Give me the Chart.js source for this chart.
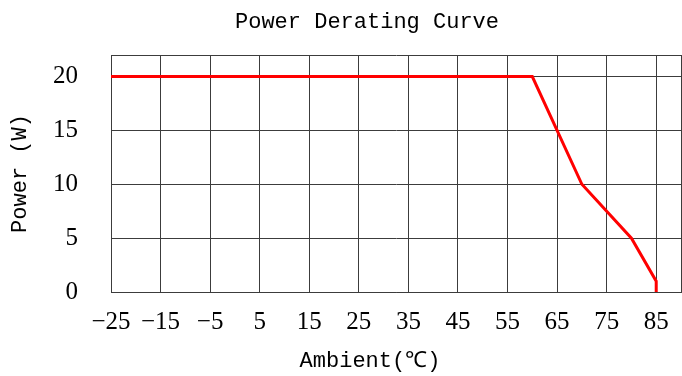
<!DOCTYPE html>
<html>
<head>
<meta charset="utf-8">
<script src="https://cdn.jsdelivr.net/npm/chart.js@4/dist/chart.umd.min.js"></script>
<style>
  html, body { margin: 0; padding: 0; background: #fff; }
  #wrap { width: 682px; height: 376px; }
</style>
</head>
<body>
<div id="wrap"><canvas id="derating"></canvas></div>
<script>
// curve points
var ambientTemps = [-25, 60, 70, 80, 85, 85];
var powerWatts = [20, 20, 10, 5, 1, 0];

// axis ticks
var xTickValues = [-25, -15, -5, 5, 15, 25, 35, 45, 55, 65, 75, 85];
var yTickValues = [0, 5, 10, 15, 20];
var xMin = -25, xMax = 90;
var yMin = 0, yMax = 22;

var chartTitle = 'Power Derating Curve';
var xTitle = 'Ambient(℃)';
var yTitle = 'Power (W)';

var gridColor = '#3c3c3c';
var titleFont = '"Liberation Mono", monospace';
var tickFont = '"Liberation Serif", serif';

var points = ambientTemps.map(function (t, i) {
  return { x: t, y: powerWatts[i] };
});

// use a real minus sign, the original has long dashes
function fmt(v) {
  return v < 0 ? '\u2212' + Math.abs(v) : String(v);
}

// title and x-axis title sit a little left of the plot centre in the original
var sideTitles = {
  id: 'sideTitles',
  afterDraw: function (chart) {
    var ctx = chart.ctx;
    ctx.save();
    ctx.fillStyle = '#000';
    ctx.textAlign = 'center';
    ctx.textBaseline = 'middle';
    ctx.font = '22px ' + titleFont;
    ctx.fillText(chartTitle, 367, 22);
    ctx.fillText(xTitle, 370, 361);
    ctx.restore();
  }
};

new Chart(document.getElementById('derating').getContext('2d'), {
  type: 'line',
  data: {
    datasets: [{
      data: points,
      borderColor: '#ff0000',
      borderWidth: 3,
      pointRadius: 0,
      tension: 0,
      fill: false
    }]
  },
  options: {
    responsive: true,
    maintainAspectRatio: false,
    animation: false,
    layout: {
      padding: { top: 55, right: 1, bottom: 0, left: 4 }
    },
    plugins: {
      legend: { display: false },
      tooltip: { enabled: false }
    },
    scales: {
      x: {
        type: 'linear',
        min: xMin,
        max: xMax,
        afterBuildTicks: function (scale) {
          scale.ticks = xTickValues.concat([xMax]).map(function (v) { return { value: v }; });
        },
        afterFit: function (scale) {
          scale.height = 84;
          scale.paddingLeft = 0;
          scale.paddingRight = 0;
        },
        grid: {
          color: gridColor,
          lineWidth: 1,
          drawTicks: false
        },
        border: { color: gridColor, width: 1 },
        ticks: {
          autoSkip: false,
          maxRotation: 0,
          padding: 15,
          color: '#000',
          font: { family: tickFont, size: 25 },
          callback: function (v) {
            return xTickValues.indexOf(v) >= 0 ? fmt(v) : '';
          }
        }
      },
      y: {
        min: yMin,
        max: yMax,
        afterBuildTicks: function (scale) {
          scale.ticks = yTickValues.concat([yMax]).map(function (v) { return { value: v }; });
        },
        afterFit: function (scale) {
          scale.width = 107;
        },
        grid: {
          color: gridColor,
          lineWidth: 1,
          drawTicks: false
        },
        border: { color: gridColor, width: 1 },
        title: {
          display: true,
          text: yTitle,
          color: '#000',
          padding: { top: 3, bottom: 0 },
          font: { family: titleFont, size: 22 }
        },
        ticks: {
          padding: 33,
          color: '#000',
          font: { family: tickFont, size: 25 },
          callback: function (v) {
            return yTickValues.indexOf(v) >= 0 ? fmt(v) : '';
          }
        }
      }
    }
  },
  plugins: [sideTitles]
});
</script>
</body>
</html>
